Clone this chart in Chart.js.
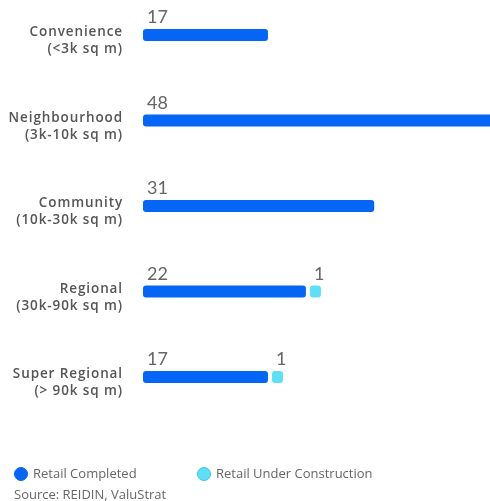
<!DOCTYPE html>
<html>
<head>
<meta charset="utf-8">
<script src="https://cdn.jsdelivr.net/npm/chart.js@4.4.1/dist/chart.umd.min.js"></script>
<style>
  html, body { margin: 0; padding: 0; background: #fff; }
  #wrap { position: relative; width: 490px; height: 501px; }
  #legend { position: absolute; left: 14px; top: 464px; font: 13px 'Open Sans', sans-serif; color: #666; }
  #legend .item { position: absolute; top: 0; white-space: nowrap; line-height: 18px; }
  #legend .dot { display: inline-block; width: 14px; height: 14px; border-radius: 50%; box-sizing: border-box; border: 1px solid; vertical-align: -3px; margin-right: 5px; }
  #source { position: absolute; left: 14px; top: 485px; font: 13px 'Open Sans', sans-serif; color: #666; line-height: 18px; }
</style>
</head>
<body>
<div id="wrap">
  <canvas id="retailChart"></canvas>
  <div id="legend"></div>
  <div id="source"></div>
</div>
<script>
// retail malls by size class
const categories = [
  ['Convenience', '(<3k sq m)'],
  ['Neighbourhood', '(3k-10k sq m)'],
  ['Community', '(10k-30k sq m)'],
  ['Regional', '(30k-90k sq m)'],
  ['Super Regional', '(> 90k sq m)']
];
const completed = [17, 48, 31, 22, 17];
const underConstruction = [null, null, null, 1, 1];
const seriesNames = ['Retail Completed', 'Retail Under Construction'];
const sourceNote = 'Source: REIDIN, ValuStrat';

const fills = ['#0565f5', '#5ddff7'];
const borders = ['#0565f5', '#35c8e6'];

// under-construction segment sits after the completed one
const pendingRanges = underConstruction.map((v, i) =>
  v == null ? null : [completed[i], completed[i] + v]);
const seriesValues = [completed, underConstruction];

// writes the value above the start of each segment
const valueLabels = {
  id: 'valueLabels',
  afterDatasetsDraw(chart) {
    const ctx = chart.ctx;
    ctx.save();
    ctx.letterSpacing = '0px';
    ctx.font = '18px Lato';
    ctx.fillStyle = '#666';
    ctx.textAlign = 'left';
    ctx.textBaseline = 'alphabetic';
    chart.data.datasets.forEach((ds, i) => {
      chart.getDatasetMeta(i).data.forEach((bar, j) => {
        const v = seriesValues[i][j];
        if (v == null) return;
        const left = Math.min(bar.x, bar.base);
        ctx.fillText(String(v), left + 6, bar.y - 12);
      });
    });
    ctx.restore();
  }
};

// slightly tracked category labels
const tracking = {
  id: 'tracking',
  beforeDraw(chart) { chart.ctx.letterSpacing = '0.9px'; },
  afterDraw(chart) { chart.ctx.letterSpacing = '0px'; }
};

const ctx = document.getElementById('retailChart').getContext('2d');
new Chart(ctx, {
  type: 'bar',
  data: {
    labels: categories,
    datasets: [{
      label: seriesNames[0],
      data: completed,
      backgroundColor: fills[0],
      borderWidth: 0,
      borderRadius: 3,
      borderSkipped: false,
      barThickness: 16,
      inflateAmount: -2,
      clip: { left: false, top: false, right: 0, bottom: false }
    }, {
      label: seriesNames[1],
      data: pendingRanges,
      backgroundColor: fills[1],
      borderWidth: 0,
      borderRadius: 3,
      borderSkipped: false,
      barThickness: 16,
      minBarLength: 15,
      inflateAmount: -2,
      clip: { left: false, top: false, right: 0, bottom: false }
    }]
  },
  options: {
    indexAxis: 'y',
    responsive: true,
    maintainAspectRatio: false,
    animation: false,
    layout: { padding: { top: 34, left: 2, right: 0, bottom: 0 } },
    scales: {
      x: {
        min: 0,
        max: 46,
        grid: { display: false },
        border: { display: false },
        ticks: { display: false },
        afterFit(scale) { scale.height = 124; }
      },
      y: {
        stacked: true,
        offset: false,
        grid: { display: false, drawTicks: false },
        border: { display: false },
        ticks: {
          color: '#555',
          font: { family: 'Open Sans', size: 13.5, weight: '600', lineHeight: 1.26 },
          padding: 18,
          labelOffset: 6
        },
        afterFit(scale) { scale.width = 139; }
      }
    },
    plugins: {
      legend: { display: false },
      tooltip: { enabled: false }
    }
  },
  plugins: [tracking, valueLabels]
});

// legend and source line under the chart
const legendEl = document.getElementById('legend');
const legendX = [0, 183];
seriesNames.forEach((name, i) => {
  const item = document.createElement('span');
  item.className = 'item';
  item.style.left = legendX[i] + 'px';
  const dot = document.createElement('span');
  dot.className = 'dot';
  dot.style.background = fills[i];
  dot.style.borderColor = borders[i];
  item.appendChild(dot);
  item.appendChild(document.createTextNode(name));
  legendEl.appendChild(item);
});
document.getElementById('source').textContent = sourceNote;
</script>
</body>
</html>
